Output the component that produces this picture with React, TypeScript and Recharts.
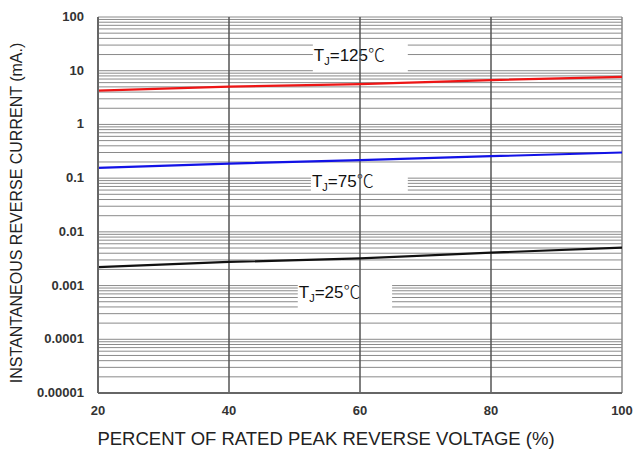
import { LineChart, Line, XAxis, YAxis, CartesianGrid, ReferenceArea, ReferenceLine } from 'recharts'

const percents = [20, 40, 60, 80, 100]
const tj125 = [4.25, 5.05, 5.65, 6.7, 7.7]
const tj75 = [0.155, 0.187, 0.216, 0.256, 0.3]
const tj25 = [0.0022, 0.00275, 0.0032, 0.0041, 0.0051]

const decades = [0.00001, 0.0001, 0.001, 0.01, 0.1, 1, 10, 100]
const decadeLabels = ['0.00001', '0.0001', '0.001', '0.01', '0.1', '1', '10', '100']
const xTicks = [20, 40, 60, 80, 100]

// every 1..9 multiple inside each decade, for the log grid
const yTicks: number[] = []
decades.forEach((d, i) => {
  if (i === decades.length - 1) {
    yTicks.push(d)
    return
  }
  for (let m = 1; m <= 9; m++) yTicks.push(+(d * m).toPrecision(3))
})

// white boxes behind the curve names
const tags = [
  { temp: '125', x1: 52.8, x2: 67.3, y1: 9.46, y2: 32.8, base: 18 },
  { temp: '75', x1: 52.5, x2: 67.3, y1: 0.0552, y2: 0.13, base: 15 },
  { temp: '25', x1: 50.5, x2: 64.9, y1: 0.000382, y2: 0.00102, base: 13 },
]

const data = percents.map((p, i) => ({ p, a: tj125[i], b: tj75[i], c: tj25[i] }))

const textFont = 'Liberation Sans, Arial, sans-serif'
const tickFont = { fontFamily: textFont, fontWeight: 700, fontSize: 13, fill: '#333' }

function YTick({ x, y, payload }: any) {
  const i = decades.findIndex((d) => Math.abs(d - payload.value) / d < 1e-6)
  if (i < 0) return null
  return (
    <text x={x - 6} y={y + 4} textAnchor="end" {...tickFont}>
      {decadeLabels[i]}
    </text>
  )
}

function XTick({ x, y, payload }: any) {
  return (
    <text x={x} y={y + 14} textAnchor="middle" {...tickFont}>
      {payload.value}
    </text>
  )
}

function Tag({ viewBox, temp, base }: any) {
  if (!viewBox) return null
  const { x, y } = viewBox
  return (
    <text x={x + 1} y={y + base} fontFamily={textFont} fontSize={17} fill="#111">
      <tspan>T</tspan>
      <tspan fontSize={11} dy={4}>J</tspan>
      <tspan dy={-4}>={temp}</tspan>
      <tspan fontFamily="Noto Sans CJK SC, sans-serif" fontWeight={300}>℃</tspan>
    </text>
  )
}

export default function App() {
  return (
    <div style={{ position: 'absolute', left: 0, top: 0, background: '#fff' }}>
      <LineChart width={635} height={453} data={data} margin={{ top: 17, right: 13, bottom: 0, left: 38 }}>
        <CartesianGrid stroke="#8a8a8a" strokeWidth={1} vertical={false} />
        <XAxis
          dataKey="p"
          type="number"
          domain={[20, 100]}
          ticks={xTicks}
          tick={<XTick />}
          tickLine={false}
          axisLine={{ stroke: '#666', strokeWidth: 2 }}
          height={60}
          label={{
            content: () => (
              <text x={326} y={445} textAnchor="middle" fontFamily={textFont} fontSize={18.5} fill="#222">
                PERCENT OF RATED PEAK REVERSE VOLTAGE (%)
              </text>
            ),
          }}
        />
        <YAxis
          scale="log"
          type="number"
          domain={[0.00001, 100]}
          ticks={yTicks}
          interval={0}
          allowDataOverflow
          tick={<YTick />}
          tickLine={false}
          axisLine={{ stroke: '#666', strokeWidth: 2 }}
          width={60}
          label={{
            content: () => (
              <text
                x={22}
                y={213}
                transform="rotate(-90 22 213)"
                textAnchor="middle"
                fontFamily={textFont}
                fontSize={16}
                fill="#222"
              >
                INSTANTANEOUS REVERSE CURRENT (mA.)
              </text>
            ),
          }}
        />
        {[40, 60, 80].map((v) => (
          <ReferenceLine key={v} x={v} stroke="#555" strokeWidth={1.5} />
        ))}
        <ReferenceLine x={100} stroke="#888" strokeWidth={1.5} />
        {tags.map((t) => (
          <ReferenceArea
            key={t.temp}
            x1={t.x1}
            x2={t.x2}
            y1={t.y1}
            y2={t.y2}
            fill="#fff"
            fillOpacity={1}
            stroke="none"
            label={{ content: (p: any) => <Tag viewBox={p.viewBox} temp={t.temp} base={t.base} /> }}
          />
        ))}
        <Line dataKey="a" stroke="#ee1515" strokeWidth={2.2} dot={false} isAnimationActive={false} />
        <Line dataKey="b" stroke="#1212e6" strokeWidth={2.2} dot={false} isAnimationActive={false} />
        <Line dataKey="c" stroke="#111" strokeWidth={2.2} dot={false} isAnimationActive={false} />
      </LineChart>
    </div>
  )
}
